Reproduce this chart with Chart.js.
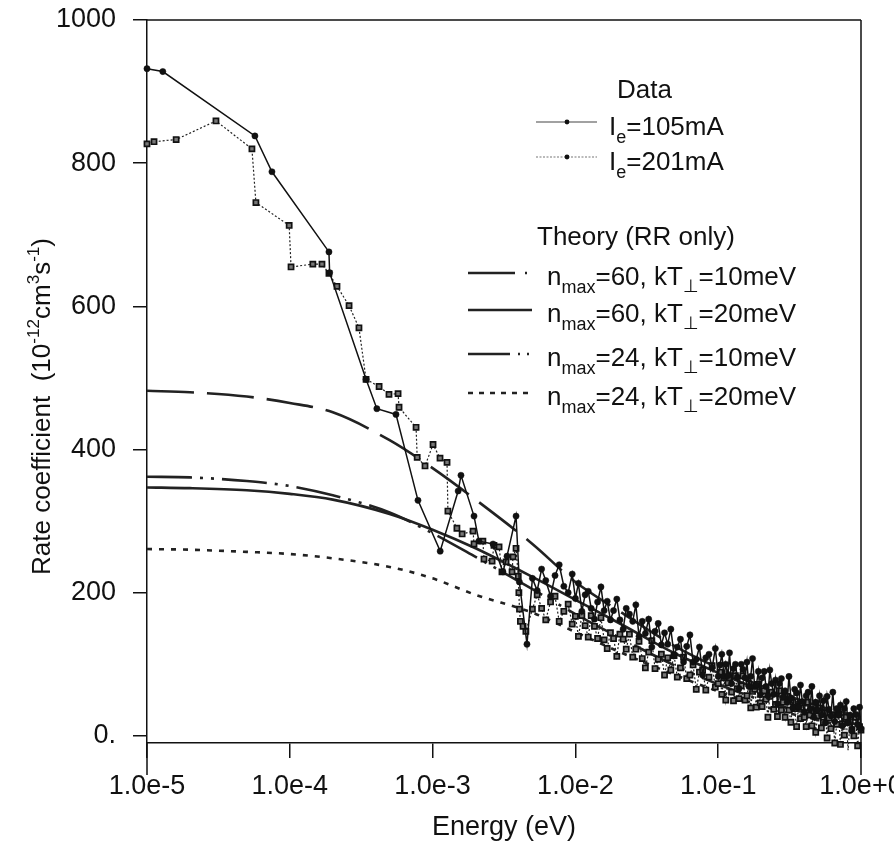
<!DOCTYPE html>
<html><head><meta charset="utf-8">
<script src="https://cdn.jsdelivr.net/npm/chart.js@4.4.1/dist/chart.umd.min.js"></script>
<style>html,body{margin:0;padding:0;background:#fff}canvas{display:block}</style>
</head><body>
<canvas id="c" width="894" height="850"></canvas>
<script>
// ---------- DATA ----------
const xTicks = [1e-5, 1e-4, 1e-3, 1e-2, 1e-1, 1];
const yTicks = [0, 200, 400, 600, 800, 1000];

// Ie = 105 mA, sparse low-energy part
const e105Low = [1.0e-5, 1.29e-5, 5.7e-5, 7.5e-5, 1.88e-4, 1.90e-4, 3.42e-4, 4.07e-4, 5.54e-4, 7.9e-4,
  1.13e-3, 1.51e-3, 1.58e-3, 1.95e-3, 2.11e-3, 2.65e-3, 3.11e-3, 3.32e-3, 3.84e-3, 4.05e-3, 4.58e-3];
const r105Low = [932, 928, 838, 788, 676, 647, 498, 457, 449, 329,
  258, 342, 364, 307, 272, 268, 229, 251, 307, 215, 128];

// Ie = 201 mA, sparse low-energy part
const e201Low = [1.0e-5, 1.12e-5, 1.6e-5, 3.04e-5, 5.43e-5, 5.79e-5, 9.9e-5, 1.02e-4, 1.45e-4, 1.68e-4,
  1.88e-4, 2.14e-4, 2.6e-4, 3.05e-4, 3.42e-4, 4.22e-4, 4.95e-4, 5.73e-4, 5.82e-4, 7.66e-4,
  7.8e-4, 8.85e-4, 1.007e-3, 1.127e-3, 1.262e-3, 1.28e-3, 1.48e-3, 1.61e-3, 1.92e-3, 1.95e-3,
  2.25e-3, 2.29e-3, 2.61e-3, 2.69e-3, 2.92e-3, 3.06e-3, 3.27e-3, 3.6e-3, 3.66e-3, 3.84e-3,
  3.98e-3, 4.02e-3, 4.06e-3, 4.12e-3, 4.3e-3, 4.5e-3];
const r201Low = [827, 830, 833, 859, 820, 745, 713, 655, 659, 659,
  646, 628, 601, 570, 498, 488, 477, 478, 459, 431,
  389, 377, 407, 388, 382, 314, 290, 282, 286, 268,
  272, 247, 244, 266, 264, 229, 243, 229, 250, 262,
  223, 200, 177, 160, 153, 146];

// dense high-energy energies (eV), shared by both runs
const eDense = [
  0.0050, 0.0054, 0.0058, 0.0062, 0.0067, 0.0072, 0.0077, 0.0083, 0.0089, 0.0095,
  0.0100, 0.0105, 0.0111, 0.0117, 0.0123, 0.0129, 0.0136, 0.0143, 0.0151, 0.0159,
  0.0167, 0.0176, 0.0185, 0.0195, 0.0205, 0.0216, 0.0227, 0.0239, 0.0252, 0.0265,
  0.0279, 0.0294, 0.0309, 0.0326, 0.0343, 0.0361, 0.0380, 0.0400, 0.0421, 0.0443,
  0.0466, 0.0491, 0.0517, 0.0544, 0.0572, 0.0602, 0.0634, 0.0667, 0.0702, 0.0739,
  0.0778, 0.0819, 0.0862, 0.0907, 0.0955,
  0.100, 0.103, 0.106, 0.110, 0.113, 0.117, 0.120, 0.124, 0.128, 0.132,
  0.136, 0.140, 0.145, 0.149, 0.154, 0.159, 0.164, 0.169, 0.174, 0.180,
  0.185, 0.191, 0.197, 0.203, 0.210, 0.216, 0.223, 0.230, 0.237, 0.245,
  0.252, 0.260, 0.268, 0.277, 0.285, 0.294, 0.304, 0.313, 0.323, 0.333,
  0.343, 0.354, 0.365, 0.377, 0.388, 0.401, 0.413, 0.426, 0.439, 0.453,
  0.467, 0.482, 0.497, 0.512, 0.528, 0.545, 0.562, 0.579, 0.597, 0.616,
  0.635, 0.655, 0.676, 0.697, 0.718, 0.741, 0.764, 0.788, 0.812, 0.838,
  0.864, 0.891, 0.919, 0.947, 0.977, 1.000];
const r105Dense = [
  220, 203, 233, 217, 195, 224, 239, 209, 200, 226,
  192, 213, 174, 197, 202, 178, 163, 187, 208, 175,
  188, 162, 175, 191, 162, 149, 178, 170, 160, 183,
  139, 160, 143, 163, 124, 146, 157, 127, 144, 128,
  149, 113, 124, 135, 103, 125, 141, 103, 107, 124,
  85, 109, 114, 95, 122,
  83, 99, 114, 83, 100, 84, 116, 73, 94, 100,
  82, 66, 100, 93, 81, 103, 69, 83, 108, 69,
  71, 90, 57, 81, 90, 69, 56, 92, 73, 58,
  78, 45, 73, 80, 54, 63, 47, 83, 53, 39,
  65, 60, 40, 71, 48, 34, 56, 61, 37, 69,
  26, 47, 36, 56, 29, 49, 18, 55, 37, 28,
  61, 20, 38, 29, 43, 14, 38, 48, 18, 29,
  7, 38, 30, 16, 40, 10];
const r201Dense = [
  177, 197, 178, 162, 187, 195, 160, 174, 184, 156,
  167, 139, 168, 154, 138, 168, 153, 136, 165, 134,
  122, 144, 136, 111, 142, 135, 121, 142, 110, 121,
  132, 108, 95, 117, 133, 94, 107, 114, 85, 109,
  92, 112, 82, 95, 110, 80, 85, 99, 65, 89,
  92, 64, 82, 98, 68,
  73, 89, 58, 81, 50, 74, 81, 61, 49, 84,
  66, 52, 70, 84, 50, 56, 73, 39, 62, 65,
  40, 72, 46, 41, 63, 51, 26, 55, 61, 37,
  44, 27, 63, 36, 47, 26, 55, 36, 19, 47,
  38, 13, 41, 24, 46, 26, 13, 47, 29, 14,
  35, 5, 28, 39, 11, 19, 32, -3, 25, 10,
  29, -10, 16, 30, -12, 17, 1, 26, -20, 20,
  8, 0, 26, -14, 13, 8];

// theory (RR only)
const theoryE  = [1e-5, 2e-5, 5e-5, 1e-4, 2e-4, 5e-4, 1e-3, 2e-3, 5e-3, 1e-2, 2e-2, 5e-2, 0.1, 0.2, 0.5, 1.0];
const th60_10  = [482, 480, 474, 465, 452, 413, 374, 330, 268, 215, 175, 125, 95, 70, 42, 26];
const th60_20  = [347, 346, 343, 338, 330, 310, 288, 262, 222, 190, 158, 115, 88, 64, 38, 23];
const th24_10  = [362, 361, 356, 349, 336, 312, 283, 250, 205, 170, 138, 98, 72, 50, 28, 15];
const th24_20  = [261, 260, 257, 254, 248, 236, 220, 197, 172, 145, 118, 85, 62, 42, 22, 10];

// ---------- CHART ----------
const FONT = "'Liberation Sans', Arimo, Arial, Helvetica, 'DejaVu Sans', sans-serif";
const INK = '#111';
const pts = (xs, ys) => xs.map((x, i) => ({x: x, y: ys[i]}));
const e105 = e105Low.concat(eDense), r105 = r105Low.concat(r105Dense);
const e201 = e201Low.concat(eDense), r201 = r201Low.concat(r201Dense);

function drawRich(ctx, x, y, parts) {
  for (const p of parts) {
    ctx.font = p.s + 'px ' + FONT;
    ctx.fillText(p.t, x, y + (p.dy || 0));
    x += ctx.measureText(p.t).width;
  }
  return x;
}
function richWidth(ctx, parts) {
  let w = 0;
  for (const p of parts) { ctx.font = p.s + 'px ' + FONT; w += ctx.measureText(p.t).width; }
  return w;
}

const decor = {
  id: 'decor',
  afterDraw(chart) {
    const ctx = chart.ctx;
    const a = chart.chartArea;
    ctx.save();
    ctx.strokeStyle = INK; ctx.lineWidth = 1.5; ctx.setLineDash([]);
    ctx.beginPath();
    ctx.moveTo(a.left, a.top); ctx.lineTo(a.right, a.top);
    ctx.moveTo(a.right, a.top); ctx.lineTo(a.right, a.bottom + 32);
    ctx.moveTo(a.left, a.bottom); ctx.lineTo(a.left, a.bottom + 32);
    ctx.stroke();

    // y axis title
    ctx.fillStyle = INK; ctx.textBaseline = 'alphabetic'; ctx.textAlign = 'left';
    const yt = [{t: 'Rate coefficient  (10', s: 26}, {t: '-12', s: 17, dy: -11}, {t: 'cm', s: 26},
      {t: '3', s: 17, dy: -11}, {t: 's', s: 26}, {t: '-1', s: 17, dy: -11}, {t: ')', s: 26}];
    const w = richWidth(ctx, yt);
    ctx.save();
    ctx.translate(50, 575);
    ctx.rotate(-Math.PI / 2);
    ctx.scale(337 / w, 1);
    drawRich(ctx, 0, 0, yt);
    ctx.restore();

    // legend
    drawRich(ctx, 617, 98, [{t: 'Data', s: 26}]);
    ctx.lineWidth = 1.2; ctx.strokeStyle = '#444';
    ctx.beginPath(); ctx.moveTo(536, 122); ctx.lineTo(597, 122); ctx.stroke();
    ctx.beginPath(); ctx.arc(567, 122, 2.4, 0, Math.PI * 2); ctx.fill();
    drawRich(ctx, 609, 135, [{t: 'I', s: 26}, {t: 'e', s: 18, dy: 8}, {t: '=105mA', s: 26}]);
    ctx.strokeStyle = '#777'; ctx.setLineDash([2, 1.5]);
    ctx.beginPath(); ctx.moveTo(536, 157); ctx.lineTo(597, 157); ctx.stroke();
    ctx.setLineDash([]);
    ctx.beginPath(); ctx.arc(567, 157, 2.4, 0, Math.PI * 2); ctx.fill();
    drawRich(ctx, 609, 170, [{t: 'I', s: 26}, {t: 'e', s: 18, dy: 8}, {t: '=201mA', s: 26}]);

    drawRich(ctx, 537, 245, [{t: 'Theory (RR only)', s: 26}]);

    ctx.strokeStyle = '#222'; ctx.lineWidth = 2.6;
    const rows = [
      {y: 273, dash: [47, 10, 2, 100], n: '60', k: '10'},
      {y: 310, dash: [], n: '60', k: '20'},
      {y: 354, dash: [42, 8, 2, 7, 2, 100], n: '24', k: '10'},
      {y: 393, dash: [5, 6], n: '24', k: '20'}
    ];
    for (const r of rows) {
      ctx.setLineDash(r.dash);
      ctx.beginPath(); ctx.moveTo(468, r.y); ctx.lineTo(532, r.y); ctx.stroke();
      ctx.setLineDash([]);
      drawRich(ctx, 547, r.y + 12, [{t: 'n', s: 26}, {t: 'max', s: 18, dy: 8},
        {t: '=' + r.n + ', kT', s: 26}, {t: '\u22A5', s: 18, dy: 7}, {t: '=' + r.k + 'meV', s: 26}]);
    }
    ctx.restore();
  }
};

const theoryStyle = {pointRadius: 0, borderColor: '#222', borderWidth: 2.6, cubicInterpolationMode: 'monotone', fill: false};

new Chart(document.getElementById('c').getContext('2d'), {
  type: 'line',
  data: {
    datasets: [
      {label: 'Ie=105mA', data: pts(e105, r105), borderColor: INK, borderWidth: 1.5,
        pointStyle: 'circle', pointRadius: 3.1, pointBackgroundColor: INK, pointBorderColor: INK,
        pointBorderWidth: 0.5, clip: false, tension: 0, fill: false, order: 0},
      {label: 'Ie=201mA', data: pts(e201, r201), borderColor: '#222', borderWidth: 1.2, borderDash: [2, 2],
        pointStyle: 'rect', pointRadius: 3.6, pointBackgroundColor: '#777', pointBorderColor: INK,
        pointBorderWidth: 1.7, clip: false, tension: 0, fill: false, order: 1},
      Object.assign({label: 'nmax=60, kT=10meV', data: pts(theoryE, th60_10), borderDash: [47, 13], order: 2}, theoryStyle),
      Object.assign({label: 'nmax=60, kT=20meV', data: pts(theoryE, th60_20), order: 3}, theoryStyle),
      Object.assign({label: 'nmax=24, kT=10meV', data: pts(theoryE, th24_10), borderDash: [45, 8, 3, 8, 3, 8], order: 4}, theoryStyle),
      Object.assign({label: 'nmax=24, kT=20meV', data: pts(theoryE, th24_20), borderDash: [5, 7], order: 5}, theoryStyle)
    ]
  },
  options: {
    responsive: false, animation: false, devicePixelRatio: 1,
    layout: {padding: {top: 20, right: 33, left: 0, bottom: 0}},
    plugins: {legend: {display: false}, tooltip: {enabled: false}},
    scales: {
      x: {
        type: 'logarithmic', min: 1e-5, max: 1,
        afterBuildTicks: s => { s.ticks = xTicks.map(v => ({value: v})); },
        afterFit: s => { s.height = 107; s.paddingLeft = 0; s.paddingRight = 0; },
        ticks: {callback: v => Number(v).toExponential(1), font: {family: FONT, size: 27}, color: INK,
          maxRotation: 0, minRotation: 0, autoSkip: false, padding: 12},
        grid: {drawOnChartArea: false, drawTicks: true, tickLength: 15, color: INK, lineWidth: 1.5},
        border: {display: true, color: INK, width: 1.5},
        title: {display: true, text: 'Energy (eV)', font: {family: FONT, size: 27}, color: INK, padding: {top: 4, bottom: 6}}
      },
      y: {
        type: 'linear', min: -10, max: 1000,
        afterBuildTicks: s => { s.ticks = yTicks.map(v => ({value: v})); },
        afterFit: s => { s.width = 147; s.paddingTop = 0; s.paddingBottom = 0; },
        ticks: {callback: v => (v === 0 ? '0.' : String(v)), font: {family: FONT, size: 27}, color: INK, padding: 17},
        grid: {drawOnChartArea: false, drawTicks: true, tickLength: 14, color: INK, lineWidth: 1.5},
        border: {display: true, color: INK, width: 1.5}
      }
    }
  },
  plugins: [decor]
});
</script>
</body></html>
